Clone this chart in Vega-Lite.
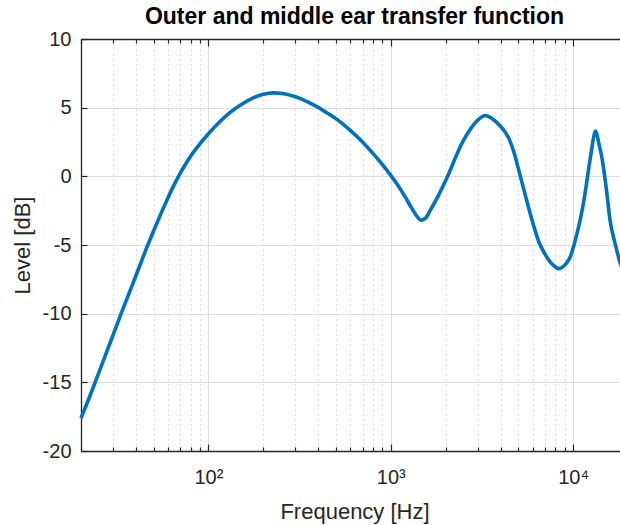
{
  "$schema": "https://vega.github.io/schema/vega-lite/v6.json",
  "autosize": "none",
  "padding": {"left": 81, "top": 39, "right": 0, "bottom": 74},
  "width": 547,
  "height": 412,
  "background": "white",
  "config": {"font": "Liberation Sans", "view": {"stroke": null}},
  "title": {"text": "Outer and middle ear transfer function", "fontSize": 23, "fontWeight": "bold", "font": "Liberation Sans", "color": "#000000", "anchor": "middle", "offset": 0},
  "data": {"values": [
    {"f": 20, "level": -17.6},
    {"f": 22, "level": -16.25},
    {"f": 24, "level": -14.95},
    {"f": 27, "level": -13.15},
    {"f": 30, "level": -11.55},
    {"f": 33.2, "level": -10.0},
    {"f": 37, "level": -8.4},
    {"f": 40, "level": -7.24},
    {"f": 46.5, "level": -5.0},
    {"f": 52, "level": -3.45},
    {"f": 58, "level": -2.0},
    {"f": 63, "level": -0.95},
    {"f": 68.5, "level": 0.0},
    {"f": 74, "level": 0.77},
    {"f": 80, "level": 1.48},
    {"f": 90, "level": 2.38},
    {"f": 100, "level": 3.1},
    {"f": 115, "level": 3.95},
    {"f": 130, "level": 4.6},
    {"f": 150, "level": 5.2},
    {"f": 175, "level": 5.7},
    {"f": 200, "level": 5.97},
    {"f": 228, "level": 6.08},
    {"f": 260, "level": 6.02},
    {"f": 300, "level": 5.8},
    {"f": 350, "level": 5.43},
    {"f": 400, "level": 5.02},
    {"f": 450, "level": 4.6},
    {"f": 500, "level": 4.2},
    {"f": 600, "level": 3.35},
    {"f": 700, "level": 2.5},
    {"f": 800, "level": 1.65},
    {"f": 900, "level": 0.85},
    {"f": 1000, "level": 0.07},
    {"f": 1100, "level": -0.7},
    {"f": 1200, "level": -1.5},
    {"f": 1300, "level": -2.3},
    {"f": 1400, "level": -2.95},
    {"f": 1460, "level": -3.2},
    {"f": 1550, "level": -3.05},
    {"f": 1650, "level": -2.45},
    {"f": 1800, "level": -1.55},
    {"f": 2000, "level": -0.3},
    {"f": 2500, "level": 2.6},
    {"f": 3000, "level": 4.1},
    {"f": 3300, "level": 4.43},
    {"f": 3600, "level": 4.2},
    {"f": 4000, "level": 3.65},
    {"f": 4250, "level": 3.2},
    {"f": 4500, "level": 2.6},
    {"f": 4750, "level": 1.7},
    {"f": 5000, "level": 0.6},
    {"f": 5500, "level": -1.5},
    {"f": 6000, "level": -3.35},
    {"f": 6500, "level": -4.8},
    {"f": 7000, "level": -5.65},
    {"f": 7500, "level": -6.25},
    {"f": 8000, "level": -6.6},
    {"f": 8300, "level": -6.72},
    {"f": 8860, "level": -6.55},
    {"f": 9230, "level": -6.29},
    {"f": 9635, "level": -5.88},
    {"f": 10300, "level": -4.6},
    {"f": 10920, "level": -3.21},
    {"f": 11550, "level": -1.5},
    {"f": 12130, "level": 0.43},
    {"f": 12650, "level": 2.0},
    {"f": 13030, "level": 3.0},
    {"f": 13280, "level": 3.3},
    {"f": 13540, "level": 3.0},
    {"f": 13890, "level": 2.3},
    {"f": 14370, "level": 1.4},
    {"f": 15210, "level": -0.9},
    {"f": 15950, "level": -3.21},
    {"f": 17000, "level": -4.9},
    {"f": 17950, "level": -6.12},
    {"f": 19000, "level": -7.1},
    {"f": 20000, "level": -7.8}
  ]},
  "layer": [
    {
      "mark": {"type": "line", "strokeOpacity": 0},
      "encoding": {
        "x": {"field": "f", "type": "quantitative", "scale": {"type": "log", "domain": [20, 20000], "nice": false},
          "axis": {"orient": "top", "values": [20,30,40,50,60,70,80,90,100,200,300,400,500,600,700,800,900,1000,2000,3000,4000,5000,6000,7000,8000,9000,10000,20000],
            "labels": false, "grid": false, "title": null, "domain": true, "domainColor": "#262626", "domainWidth": 1.3, "tickColor": "#262626", "tickWidth": 1.2,
            "tickSize": {"condition": {"test": "datum.value==100||datum.value==1000||datum.value==10000", "value": -7}, "value": -4}}},
        "y": {"field": "level", "type": "quantitative", "scale": {"domain": [-20, 10], "nice": false}, "axis": null}
      }
    },
    {
      "mark": {"type": "line", "color": "#0072BD", "strokeWidth": 3.6, "interpolate": "monotone"},
      "encoding": {
        "x": {"field": "f", "type": "quantitative", "scale": {"type": "log", "domain": [20, 20000], "nice": false},
          "axis": {"orient": "bottom", "values": [20,30,40,50,60,70,80,90,100,200,300,400,500,600,700,800,900,1000,2000,3000,4000,5000,6000,7000,8000,9000,10000,20000],
            "labelExpr": "datum.value==100 ? '10²' : datum.value==1000 ? '10³' : datum.value==10000 ? '10⁴' : ''",
            "labelFlush": false, "labelOverlap": false, "labelFontSize": 20, "labelColor": "#262626", "labelPadding": 23,
            "grid": true,
            "gridColor": {"condition": {"test": "datum.value==100||datum.value==1000||datum.value==10000", "value": "#dcdcdc"}, "value": "#bdbdbd"},
            "gridDash": {"condition": {"test": "datum.value==100||datum.value==1000||datum.value==10000", "value": []}, "value": [1, 4]},
            "domainColor": "#262626", "domainWidth": 1.3, "tickColor": "#262626", "tickWidth": 1.2,
            "tickSize": {"condition": {"test": "datum.value==100||datum.value==1000||datum.value==10000", "value": -7}, "value": -4},
            "title": "Frequency [Hz]", "titleFontSize": 22, "titleFontWeight": "normal", "titleColor": "#262626", "titleBaseline": "alphabetic", "titleY": 67}},
        "y": {"field": "level", "type": "quantitative", "scale": {"domain": [-20, 10], "nice": false},
          "axis": {"orient": "left", "values": [-20, -15, -10, -5, 0, 5, 10], "grid": true, "gridColor": "#dcdcdc",
            "labelExpr": "'' + datum.value",
            "domainColor": "#262626", "domainWidth": 1.3, "tickColor": "#262626", "tickWidth": 1.2, "tickSize": -6,
            "labelFontSize": 20, "labelColor": "#262626", "labelPadding": 16,
            "title": "Level [dB]", "titleFontSize": 22, "titleFontWeight": "normal", "titleColor": "#262626", "titleBaseline": "alphabetic", "titleX": -52, "titleY": 206, "titleAngle": -90}}
      }
    }
  ],
  "resolve": {"axis": {"x": "independent", "y": "independent"}}
}
